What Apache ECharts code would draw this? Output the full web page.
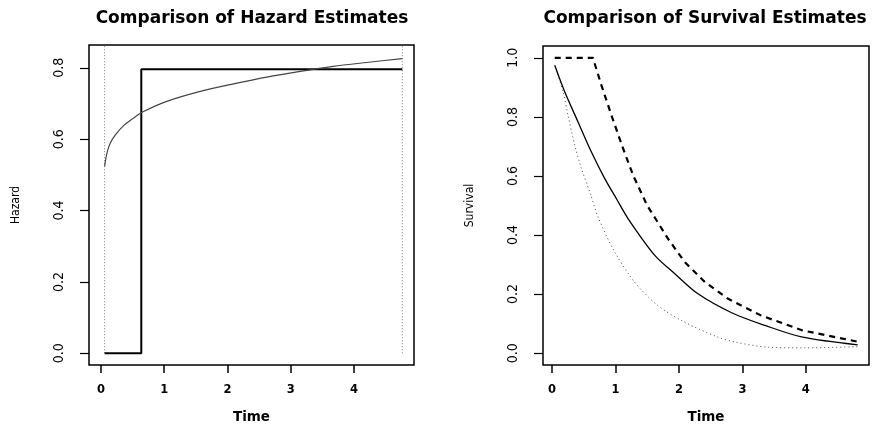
<!DOCTYPE html>
<html>
<head>
<meta charset="utf-8">
<script src="https://cdn.jsdelivr.net/npm/echarts@6/dist/echarts.min.js"></script>
<style>html,body{margin:0;padding:0;background:#fff;}#chart{width:872px;height:430px;}</style>
</head>
<body>
<div id="chart"></div>
<script>
// ---- Data ----
const xTicks = [0, 1, 2, 3, 4];
const hazardYTicks = [0, 0.2, 0.4, 0.6, 0.8];
const survYTicks = [0, 0.2, 0.4, 0.6, 0.8, 1.0];

// Hazard panel: step (piecewise) estimate
const stepTime = [0.057, 0.637, 0.637, 4.765];
const stepHazard = [0, 0, 0.796, 0.796];
// Hazard panel: smooth parametric estimate
const curveTime = [0.057, 0.094, 0.147, 0.227, 0.357, 0.515, 0.657, 1.04, 1.57, 2.095, 2.62, 3.15, 3.67, 4.2, 4.765];
const curveHazard = [0.524, 0.561, 0.589, 0.612, 0.638, 0.659, 0.676, 0.706, 0.734, 0.755, 0.774, 0.790, 0.804, 0.815, 0.826];
// Hazard panel: dotted bounds (vertical lines)
const boundLeftTime = [0.057, 0.057];
const boundRightTime = [4.765, 4.765];
const boundHazard = [0, 0.9];

// Survival panel
const survTime = [0.043, 0.2, 0.41, 0.621, 0.831, 1.015, 1.2, 1.62, 1.935, 2.30, 2.83, 3.355, 3.95, 4.817];
const survEst = [0.975, 0.885, 0.783, 0.681, 0.591, 0.523, 0.455, 0.331, 0.269, 0.201, 0.137, 0.094, 0.054, 0.028];
const upperTime = [0.043, 0.647, 0.673, 0.779, 0.937, 1.12, 1.278, 1.50, 1.83, 2.093, 2.409, 2.776, 3.30, 3.95, 4.817];
const upperSurv = [1.0, 1.0, 0.98, 0.907, 0.805, 0.693, 0.602, 0.50, 0.387, 0.308, 0.241, 0.184, 0.127, 0.077, 0.039];
const lowerTime = [0.05, 0.174, 0.252, 0.358, 0.464, 0.595, 0.726, 0.989, 1.30, 1.67, 2.09, 2.62, 2.90, 3.42, 4.0, 4.817];
const lowerSurv = [0.97, 0.885, 0.805, 0.704, 0.625, 0.546, 0.461, 0.342, 0.241, 0.161, 0.105, 0.054, 0.037, 0.020, 0.018, 0.022];

const zip = (a, b) => a.map((v, i) => [v, b[i]]);

const narrow = "'Liberation Sans Narrow', 'DejaVu Sans Condensed', 'Liberation Sans', sans-serif";
const boldFont = "'DejaVu Sans', 'Liberation Sans', sans-serif";

function xAxisCfg(gi, min, max) {
  return {
    type: 'value', gridIndex: gi, min: min, max: max,
    axisLine: { show: false, onZero: false },
    splitLine: { show: false },
    axisTick: { show: true, customValues: xTicks, length: 8, lineStyle: { color: '#000', width: 1.5 } },
    axisLabel: { customValues: xTicks, margin: 19, color: '#000', fontFamily: boldFont, fontWeight: 'bold', fontSize: 11.5 },
    name: 'Time', nameLocation: 'middle', nameGap: 45,
    nameTextStyle: { color: '#000', fontFamily: boldFont, fontWeight: 'bold', fontSize: 13.5 }
  };
}
function yAxisCfg(gi, min, max, ticks, name) {
  return {
    type: 'value', gridIndex: gi, min: min, max: max,
    axisLine: { show: false, onZero: false },
    splitLine: { show: false },
    axisTick: { show: true, customValues: ticks, length: 9, lineStyle: { color: '#000', width: 1.2 } },
    axisLabel: { customValues: ticks, rotate: 90, margin: 23, color: '#000', fontFamily: narrow, fontSize: 14,
      formatter: v => Number(v).toFixed(1) },
    name: name, nameLocation: 'middle', nameGap: 67,
    nameTextStyle: { color: '#000', fontFamily: narrow, fontSize: 12 }
  };
}

const chart = echarts.init(document.getElementById('chart'), null, { renderer: 'canvas' });
chart.setOption({
  animation: false,
  backgroundColor: '#fff',
  title: [
    { text: 'Comparison of Hazard Estimates', left: 252, top: 10, padding: 0, textAlign: 'center',
      textStyle: { fontFamily: boldFont, fontWeight: 'bold', fontSize: 17, color: '#000' } },
    { text: 'Comparison of Survival Estimates', left: 705, top: 10, padding: 0, textAlign: 'center',
      textStyle: { fontFamily: boldFont, fontWeight: 'bold', fontSize: 17, color: '#000' } }
  ],
  grid: [
    { left: 89, top: 45, width: 325, height: 320, show: true, borderColor: '#000', borderWidth: 1.5, backgroundColor: 'transparent' },
    { left: 543, top: 46, width: 326, height: 319, show: true, borderColor: '#000', borderWidth: 1.5, backgroundColor: 'transparent' }
  ],
  xAxis: [xAxisCfg(0, -0.19, 4.95), xAxisCfg(1, -0.142, 4.995)],
  yAxis: [yAxisCfg(0, -0.033, 0.864, hazardYTicks, 'Hazard'), yAxisCfg(1, -0.04, 1.04, survYTicks, 'Survival')],
  series: [
    { type: 'line', xAxisIndex: 0, yAxisIndex: 0, data: zip(boundLeftTime, boundHazard), showSymbol: false, clip: true,
      lineStyle: { color: '#777', width: 1, type: [1, 2] } },
    { type: 'line', xAxisIndex: 0, yAxisIndex: 0, data: zip(boundRightTime, boundHazard), showSymbol: false, clip: true,
      lineStyle: { color: '#777', width: 1, type: [1, 2] } },
    { type: 'line', xAxisIndex: 0, yAxisIndex: 0, data: zip(stepTime, stepHazard), showSymbol: false, clip: true,
      lineStyle: { color: '#000', width: 2 } },
    { type: 'line', xAxisIndex: 0, yAxisIndex: 0, data: zip(curveTime, curveHazard), showSymbol: false, clip: true, smooth: 0.3,
      lineStyle: { color: '#444', width: 1.2 } },
    { type: 'line', xAxisIndex: 1, yAxisIndex: 1, data: zip(lowerTime, lowerSurv), showSymbol: false, clip: true, smooth: 0.3,
      lineStyle: { color: '#444', width: 1, type: [1, 3] } },
    { type: 'line', xAxisIndex: 1, yAxisIndex: 1, data: zip(survTime, survEst), showSymbol: false, clip: true, smooth: 0.3,
      lineStyle: { color: '#000', width: 1.3 } },
    { type: 'line', xAxisIndex: 1, yAxisIndex: 1, data: zip(upperTime, upperSurv), showSymbol: false, clip: true,
      lineStyle: { color: '#000', width: 2.2, type: [6, 5] } }
  ]
});
</script>
</body>
</html>
